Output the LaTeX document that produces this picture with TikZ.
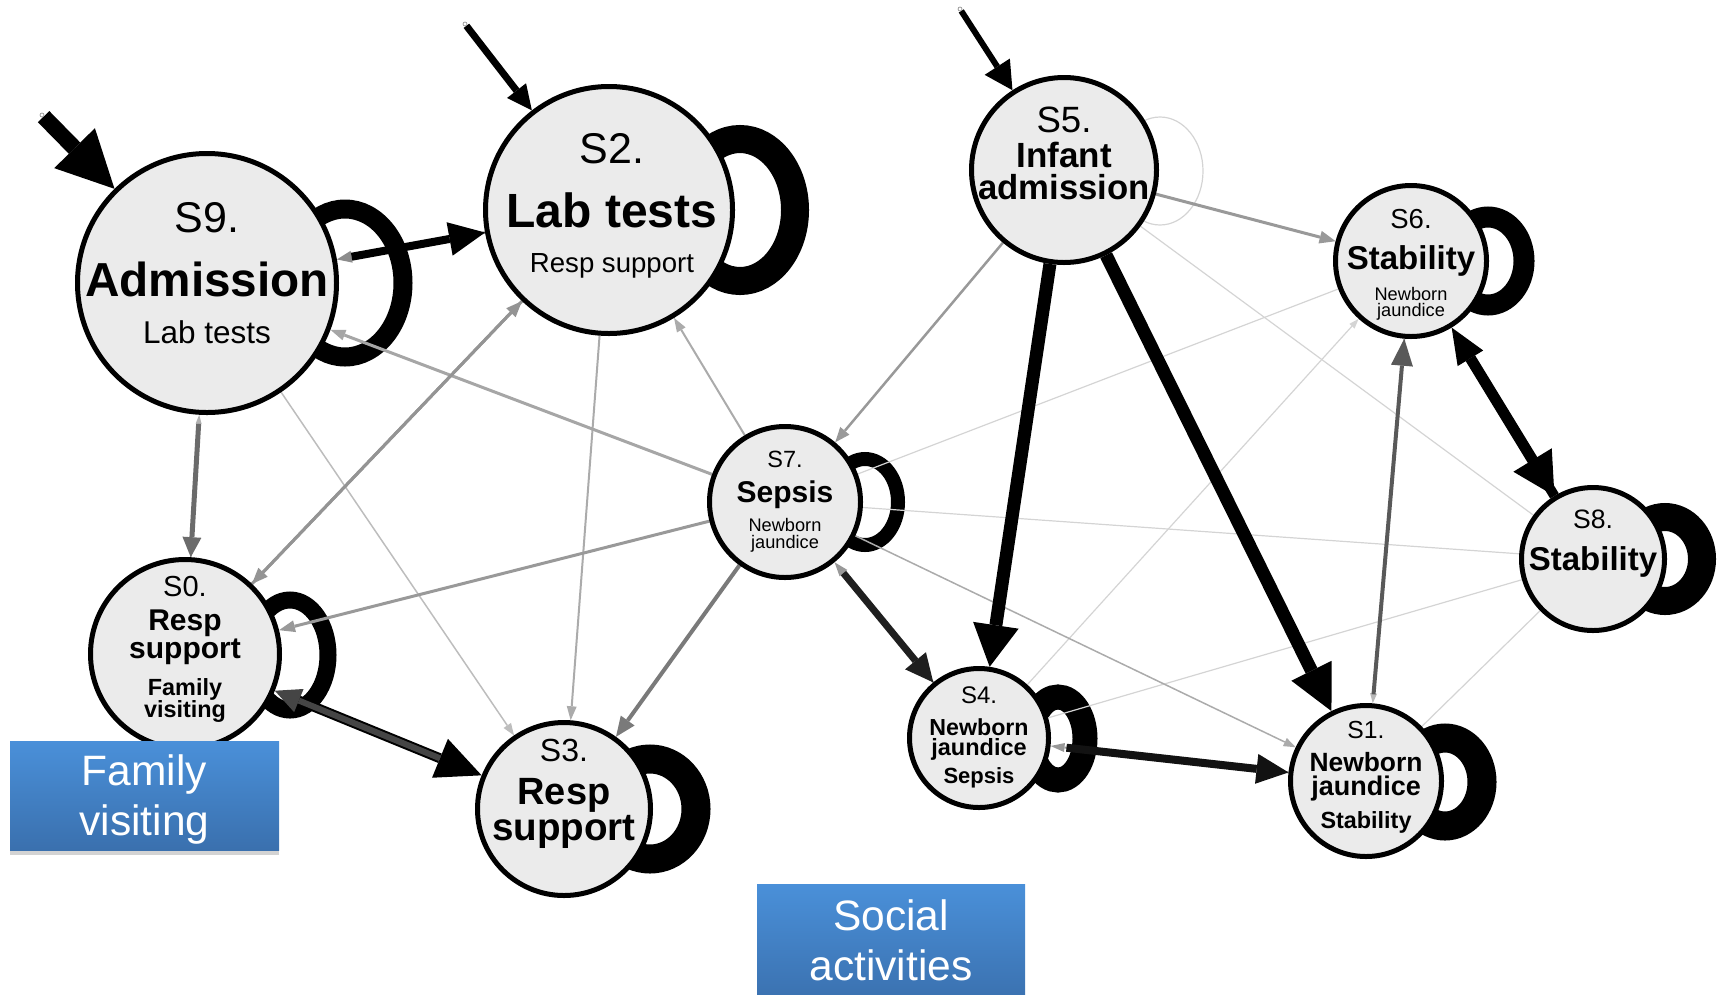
\documentclass[tikz,border=0pt]{standalone}
\usepackage{fontspec}
\setmainfont{Liberation Sans}
\usetikzlibrary{arrows.meta,shadows}
\pgfdeclarelayer{bg}
\pgfsetlayers{bg,main}

\definecolor{nodefill}{RGB}{235,235,235}
\definecolor{boxtop}{RGB}{74,144,217}
\definecolor{boxbot}{RGB}{58,112,174}
\definecolor{faint}{RGB}{212,212,212}

\newcommand\fsz[1]{\fontsize{#1pt}{#1pt}\selectfont}

\tikzset{
  state/.style={circle, draw=black, line width=5pt, fill=nodefill, inner sep=0pt, minimum size=#1},
  txt/.style={anchor=base, inner sep=0pt, font=\fsz{#1}},
  btxt/.style={anchor=base, inner sep=0pt, font=\bfseries\fsz{#1}},
  wtxt/.style={anchor=base, inner sep=0pt, text=white, font=\fsz{#1}},
  entry/.style={circle, draw=gray, fill=white, line width=0.6pt, inner sep=0pt, minimum size=4pt},
  selfloop/.style={draw=#1},
  conn/.style n args={4}{draw=#1, line width=#2, -{Triangle[length=#3, width=#4, line width=0pt]}},
  plain/.style={draw=faint, line width=1.2pt},
  tagbox/.style={rectangle, inner sep=0pt, draw=none, top color=boxtop, bottom color=boxbot,
    drop shadow={opacity=0.35, shadow xshift=0pt, shadow yshift=-5pt}},
}

\begin{document}
\begin{tikzpicture}[x=1pt,y=-1pt]
\useasboundingbox (0,0) rectangle (1720,994);

% ---- states ----
\node[state=259pt] (S9) at (207,283) {};
\node[state=247pt] (S2) at (609,210) {};
\node[state=185pt] (S5) at (1064,170) {};
\node[state=151pt] (S6) at (1411,261) {};
\node[state=151pt] (S7) at (785,502) {};
\node[state=189pt] (S0) at (185,654) {};
\node[state=173pt] (S3) at (564,809) {};
\node[state=139pt] (S4) at (979,738) {};
\node[state=151pt] (S1) at (1366,781) {};
\node[state=143pt] (S8) at (1593,559) {};

% ---- state labels ----
\node[txt=43]    (S9a) at (207,232) {S9.};
\node[btxt=47.7] (S9b) at (207,296) {Admission};
\node[txt=31.5]  (S9c) at (207,343) {Lab tests};

\node[txt=43]    (S2a) at (612,163) {S2.};
\node[btxt=48]   (S2b) at (612,227) {Lab tests};
\node[txt=27.6]  (S2c) at (612,272) {Resp support};

\node[txt=36.6]  (S5a) at (1064,132) {S5.};
\node[btxt=35]   (S5b) at (1064,167) {Infant};
\node[btxt=34.7] (S5c) at (1064,199) {admission};

\node[txt=27.5]  (S6a) at (1411,228) {S6.};
\node[btxt=33]   (S6b) at (1411,269) {Stability};
\node[txt=18.2]  (S6c) at (1411,300) {Newborn};
\node[txt=18.2]  (S6d) at (1411,316) {jaundice};

\node[txt=23.5]  (S7a) at (785,467) {S7.};
\node[btxt=30]   (S7b) at (785,502) {Sepsis};
\node[txt=18.2]  (S7c) at (785,531) {Newborn};
\node[txt=18.2]  (S7d) at (785,548) {jaundice};

\node[txt=29]    (S0a) at (185,596) {S0.};
\node[btxt=30]   (S0b) at (185,630) {Resp};
\node[btxt=30]   (S0c) at (185,658) {support};
\node[btxt=23.4] (S0d) at (185,695) {Family};
\node[btxt=23.4] (S0e) at (185,717) {visiting};

\node[txt=32]    (S3a) at (564,761) {S3.};
\node[btxt=38]   (S3b) at (564,804) {Resp};
\node[btxt=38.6] (S3c) at (564,840) {support};

\node[txt=24]    (S4a) at (979,703) {S4.};
\node[btxt=23.2] (S4b) at (979,735) {Newborn};
\node[btxt=23.5] (S4c) at (979,755) {jaundice};
\node[btxt=22]   (S4d) at (979,783) {Sepsis};

\node[txt=24.7]  (S1a) at (1366,738) {S1.};
\node[btxt=26.4] (S1b) at (1366,771) {Newborn};
\node[btxt=27]   (S1c) at (1366,795) {jaundice};
\node[btxt=23.4] (S1d) at (1366,828) {Stability};

\node[txt=26.6]  (S8a) at (1593,528) {S8.};
\node[btxt=33]   (S8b) at (1593,570) {Stability};

% ---- entry points ----
\node[entry] (in9) at (42,115) {};
\node[entry] (in2) at (465,24) {};
\node[entry] (in5) at (960,9) {};

\begin{pgfonlayer}{bg}
  % self loops
  \draw[selfloop=black, line width=19pt] (345,283) ellipse [x radius=58pt, y radius=74pt];
  \draw[selfloop=black, line width=28pt] (740,210) ellipse [x radius=55pt, y radius=71pt];
  \draw[selfloop=faint, line width=1.2pt] (1160,171) ellipse [x radius=43pt, y radius=54pt];
  \draw[selfloop=black, line width=21pt] (1488,261) ellipse [x radius=36pt, y radius=44pt];
  \draw[selfloop=black, line width=14pt] (865,502) ellipse [x radius=33pt, y radius=43pt];
  \draw[selfloop=black, line width=17pt] (290,655) ellipse [x radius=38pt, y radius=55pt];
  \draw[selfloop=black, line width=29pt] (650,809) ellipse [x radius=46pt, y radius=50pt];
  \draw[selfloop=black, line width=25pt] (1058,738.5) ellipse [x radius=27pt, y radius=41.5pt];
  \draw[selfloop=black, line width=29pt] (1445,782) ellipse [x radius=37pt, y radius=44pt];
  \draw[selfloop=black, line width=28pt] (1665,559) ellipse [x radius=37pt, y radius=42pt];

  % faint transitions
  \draw[plain] (S7) -- (S8);
  \draw[plain] (S6) -- (S7);
  \draw[plain] (S5) -- (S8);
  \draw[plain] (S8) -- (S4);
  \draw[plain] (S8) -- (S1);
  \draw[conn={faint}{1.2pt}{10pt}{7pt}] (S4) -- (S6);
  \draw[conn={black!33}{1.5pt}{12pt}{9pt}] (S7) -- (S1);
  \draw[conn={black!26}{1.5pt}{12pt}{9pt}] (S9) -- (S3);
  \draw[conn={black!33}{2pt}{14pt}{10pt}] (S2) -- (S3);
  \draw[conn={black!33}{2pt}{14pt}{10pt}] (S7) -- (S2);
  \draw[conn={black!35}{3pt}{15pt}{11pt}] (S7) -- (S9);
  \draw[conn={black!40}{2.5pt}{15pt}{12pt}] (S5) -- (S7);
  \draw[conn={black!40}{3pt}{16pt}{13pt}] (S5) -- (S6);
  \draw[conn={black!40}{3pt}{16pt}{12pt}] (S7) -- (S0);
  \draw[conn={black!52}{4pt}{20pt}{17pt}] (S7) -- (S3);
  \draw[conn={black!42}{3pt}{16pt}{13pt}] (S0) -- (S2);
  \draw[conn={black!42}{3pt}{16pt}{13pt}] (S2) -- (S0);

  % paired transitions
  \draw[conn={black!45}{2.5pt}{15pt}{12pt}] (S2) -- (S9);
  \draw[conn={black}{8pt}{36pt}{34pt}, shorten <=15pt] (S9) -- (S2);

  \draw[conn={black!30}{1.5pt}{9pt}{6pt}] (S0) -- (S9);
  \draw[conn={black!58}{5pt}{20pt}{19pt}, shorten <=9pt] (S9) -- (S0);

  \draw[conn={black!40}{2pt}{14pt}{10pt}] (S4) -- (S7);
  \draw[conn={black!88}{7pt}{28pt}{27pt}, shorten <=14pt] (S7) -- (S4);

  \draw[conn={black!40}{2pt}{14pt}{9pt}] (S1) -- (S4);
  \draw[conn={black!93}{8pt}{32pt}{30pt}, shorten <=16pt] (S4) -- (S1);

  \draw[conn={black!28}{2pt}{10pt}{7pt}] (S6) -- (S1);
  \draw[conn={black!65}{4pt}{27pt}{22pt}, shorten <=9pt] (S1) -- (S6);

  \draw[conn={black}{10pt}{45pt}{42pt}, shorten <=25pt] (S0) -- (S3);
  \draw[conn={black!73}{6pt}{26pt}{25pt}, shorten <=45pt] (S3) -- (S0);

  \draw[conn={black}{10pt}{36pt}{30pt}] (S8) -- (S6);
  \draw[conn={black}{11pt}{42pt}{45pt}, shorten <=36pt] (S6) -- (S8);

  \draw[conn={black}{13pt}{42pt}{46pt}] (S5) -- (S4);
  \draw[conn={black}{13pt}{45pt}{45pt}] (S5) -- (S1);

  % entry arrows
  \draw[conn={black}{16pt}{57pt}{57pt}] (in9) -- (S9);
  \draw[conn={black}{7pt}{25pt}{24pt}] (in2) -- (S2);
  \draw[conn={black}{6pt}{28pt}{30pt}] (in5) -- (S5);
\end{pgfonlayer}

% ---- category tags ----
\node[tagbox, minimum width=269pt, minimum height=109pt] (famtag) at (144.5,795.5) {};
\node[wtxt=42.5] (famA) at (144.5,785) {Family};
\node[wtxt=42.5] (famB) at (144.5,835) {visiting};

\node[tagbox, minimum width=268pt, minimum height=120pt] (soctag) at (891,944) {};
\node[wtxt=42.5] (socA) at (891,930) {Social};
\node[wtxt=42.5] (socB) at (891,980) {activities};
\end{tikzpicture}
\end{document}
